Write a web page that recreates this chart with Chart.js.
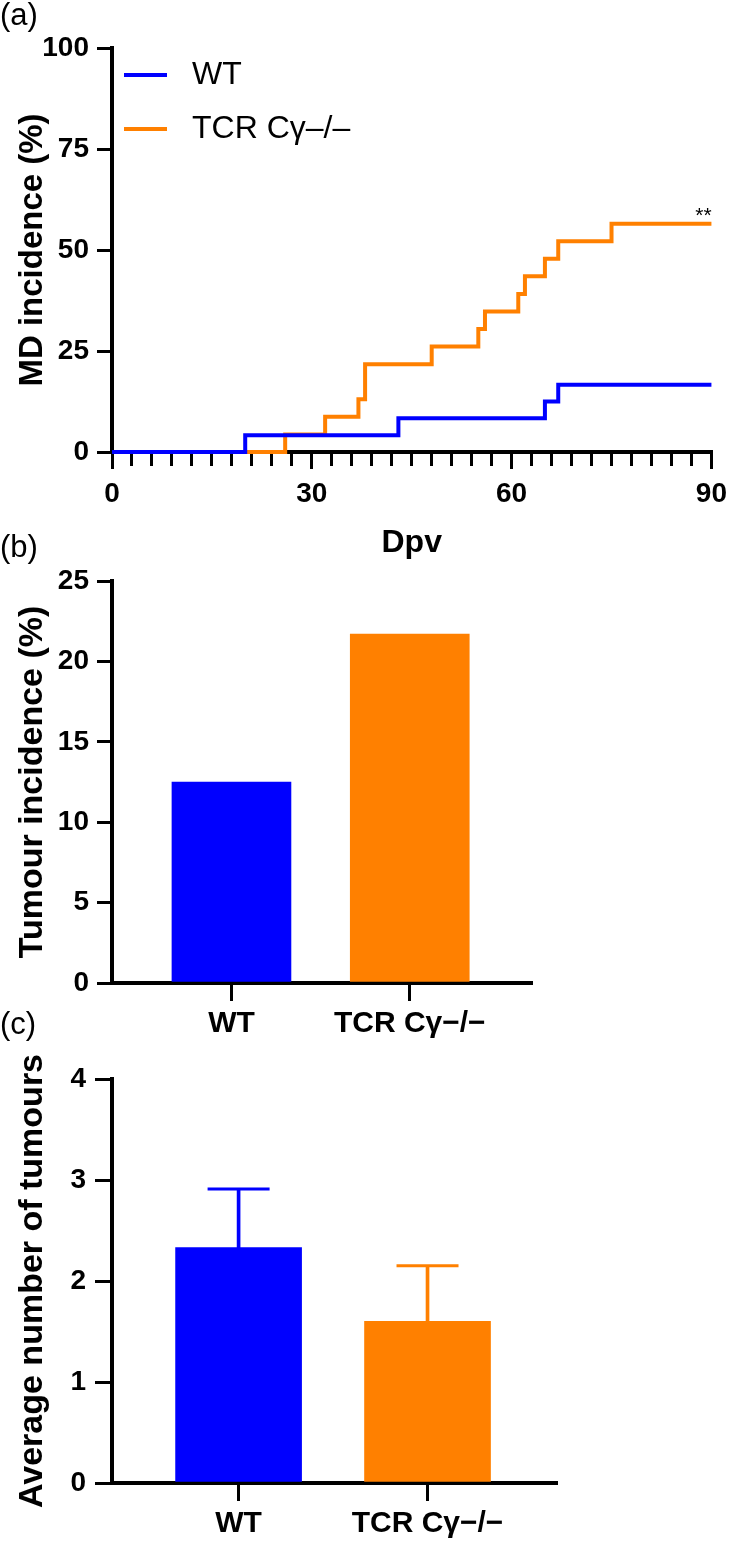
<!DOCTYPE html>
<html>
<head>
<meta charset="utf-8">
<script src="https://cdn.jsdelivr.net/npm/chart.js@4.4.0/dist/chart.umd.min.js"></script>
<style>
  html, body { margin: 0; padding: 0; background: #fff; }
  #wrap { position: relative; width: 735px; height: 1542px; }
  canvas { position: absolute; left: 0; top: 0; }
</style>
</head>
<body>
<div id="wrap">
  <canvas id="chartA" width="735" height="1542"></canvas>
  <canvas id="chartB" width="735" height="1542"></canvas>
  <canvas id="chartC" width="735" height="1542"></canvas>
</div>
<script>
// (a) MD incidence over time (Kaplan-Meier style steps)
const wtDays = [0, 20, 43, 65, 67, 90];
const wtIncidence = [0, 4.17, 8.33, 12.5, 16.67, 16.67];
const koDays = [0, 26, 32, 37, 38, 48, 55, 56, 61, 62, 65, 67, 75, 90];
const koIncidence = [0, 4.35, 8.7, 13.04, 21.74, 26.09, 30.43, 34.78, 39.13, 43.48, 47.83, 52.17, 56.52, 56.52];
const seriesNames = ['WT', 'TCR Cγ–/–'];
const dpvTicks = [0, 30, 60, 90];
const mdTicks = [0, 25, 50, 75, 100];

// (b) and (c)
const groups = ['WT', 'TCR Cγ−/−'];
const tumourIncidence = [12.5, 21.7];
const avgTumours = [2.33, 1.6];
const avgTumoursErr = [0.58, 0.55];

const BLUE = '#0000ff';
const ORANGE = '#ff8000';
const groupColors = [BLUE, ORANGE];

Chart.defaults.font.family = '"Liberation Sans", Arial, sans-serif';
Chart.defaults.color = '#000';
Chart.defaults.animation = false;

const W = 735, H = 1542;

// padding so the plot box lands where it is in the figure
function boxPadding(top, right, bottom, xHeight) {
  return { top: top, left: 0, right: W - right, bottom: H - bottom - xHeight };
}

function panelLetter(text, baseline) {
  return {
    id: 'letter' + text,
    afterDraw(chart) {
      const ctx = chart.ctx;
      ctx.save();
      ctx.font = '31px "Liberation Sans", Arial, sans-serif';
      ctx.fillStyle = '#000';
      ctx.textBaseline = 'alphabetic';
      ctx.fillText(text, 0, baseline);
      ctx.restore();
    }
  };
}

const axisGrid = (tl) => ({ drawOnChartArea: false, color: '#000', lineWidth: 3, tickLength: tl });
const axisBorder = { color: '#000', width: 4 };

// legend inside the plot, top left
const insideLegend = {
  id: 'insideLegend',
  afterDatasetsDraw(chart) {
    const { ctx, chartArea } = chart;
    ctx.save();
    chart.data.datasets.forEach((ds, i) => {
      const y = chartArea.top + 27 + i * 54;
      ctx.strokeStyle = ds.borderColor;
      ctx.lineWidth = 4;
      ctx.beginPath();
      ctx.moveTo(chartArea.left + 12, y);
      ctx.lineTo(chartArea.left + 55, y);
      ctx.stroke();
      ctx.fillStyle = '#000';
      ctx.font = '32px "Liberation Sans", Arial, sans-serif';
      ctx.textBaseline = 'middle';
      ctx.fillText(ds.label, chartArea.left + 80, y);
    });
    ctx.restore();
  }
};

// significance stars at the end of the TCR curve
const stars = {
  id: 'stars',
  afterDatasetsDraw(chart) {
    const { ctx, scales } = chart;
    ctx.save();
    ctx.font = '21px "Liberation Sans", Arial, sans-serif';
    ctx.fillStyle = '#000';
    ctx.textAlign = 'center';
    ctx.fillText('**', scales.x.getPixelForValue(88.8), scales.y.getPixelForValue(60) + 12);
    ctx.restore();
  }
};

new Chart(document.getElementById('chartA'), {
  type: 'line',
  data: {
    datasets: [
      { label: seriesNames[0], data: wtDays.map((d, i) => ({ x: d, y: wtIncidence[i] })),
        borderColor: BLUE, backgroundColor: BLUE },
      { label: seriesNames[1], data: koDays.map((d, i) => ({ x: d, y: koIncidence[i] })),
        borderColor: ORANGE, backgroundColor: ORANGE }
    ]
  },
  options: {
    responsive: false,
    clip: false,
    layout: { padding: boxPadding(48, 718, 452, 118) },
    elements: {
      line: { stepped: 'before', borderWidth: 4, borderJoinStyle: 'miter', fill: false },
      point: { radius: 0, hoverRadius: 0 }
    },
    plugins: { legend: { display: false }, tooltip: { enabled: false } },
    scales: {
      x: {
        type: 'linear', min: 0, max: 90,
        afterFit: s => { s.height = 118; },
        grid: {
          drawOnChartArea: false, color: '#000', lineWidth: 3, tickLength: 17,
          // minor ticks every 3 days are shorter than the labelled ones
          tickBorderDash: c => (c.tick && !dpvTicks.includes(c.tick.value)) ? [12, 40] : []
        },
        border: axisBorder,
        ticks: {
          stepSize: 3, autoSkip: false, maxRotation: 0, padding: 8,
          font: { size: 28, weight: 'bold' },
          callback: v => dpvTicks.includes(v) ? v : ''
        },
        title: { display: true, text: 'Dpv', font: { size: 32, weight: 'bold' }, padding: { top: 0, bottom: 8 } }
      },
      y: {
        min: 0, max: 100,
        afterFit: s => { s.width = 112; },
        afterBuildTicks: s => { s.ticks = mdTicks.map(v => ({ value: v })); },
        grid: axisGrid(15),
        border: axisBorder,
        ticks: { padding: 8, font: { size: 28, weight: 'bold' } },
        title: { display: true, text: 'MD incidence (%)', font: { size: 33, weight: 'bold' }, padding: { top: 13, bottom: 0 } }
      }
    }
  },
  plugins: [insideLegend, stars, panelLetter('(a)', 25)]
});

function groupAxis(xHeight, tl) {
  return {
    type: 'linear', min: 0.33, max: 2.68, offset: false,
    afterFit: s => { s.height = xHeight; },
    afterBuildTicks: s => { s.ticks = groups.map((g, i) => ({ value: i + 1 })); },
    grid: Object.assign(axisGrid(tl), { offset: false }),
    border: axisBorder,
    ticks: { padding: 5, maxRotation: 0, autoSkip: false, font: { size: 30, weight: 'bold' },
             callback: v => groups[v - 1] }
  };
}

new Chart(document.getElementById('chartB'), {
  type: 'bar',
  data: {
    datasets: [{
      data: groups.map((g, i) => ({ x: i + 1, y: tumourIncidence[i] })),
      backgroundColor: groupColors, barThickness: 119, grouped: false
    }]
  },
  options: {
    responsive: false,
    layout: { padding: boxPadding(581, 531, 983, 60) },
    plugins: { legend: { display: false }, tooltip: { enabled: false } },
    scales: {
      x: groupAxis(60, 18),
      y: {
        min: 0, max: 25,
        afterFit: s => { s.width = 112; },
        ticks: { stepSize: 5, padding: 8, font: { size: 28, weight: 'bold' } },
        grid: axisGrid(15),
        border: axisBorder,
        title: { display: true, text: 'Tumour incidence (%)', font: { size: 34, weight: 'bold' }, padding: { top: 12, bottom: 0 } }
      }
    }
  },
  plugins: [panelLetter('(b)', 557)]
});

new Chart(document.getElementById('chartC'), {
  type: 'bar',
  data: {
    datasets: [
      { data: groups.map((g, i) => ({ x: i + 1, y: avgTumours[i] })),
        backgroundColor: groupColors, barThickness: 126, grouped: false },
      // error bar stems
      { data: groups.map((g, i) => ({ x: i + 1, y: [avgTumours[i], avgTumours[i] + avgTumoursErr[i]] })),
        backgroundColor: groupColors, barThickness: 3, grouped: false },
      // error bar caps
      { type: 'line', showLine: false,
        data: groups.map((g, i) => ({ x: i + 1, y: avgTumours[i] + avgTumoursErr[i] })),
        pointStyle: 'line', pointRadius: 31, pointHoverRadius: 31, pointBorderWidth: 3,
        pointBorderColor: groupColors, borderColor: groupColors }
    ]
  },
  options: {
    responsive: false,
    layout: { padding: boxPadding(1079, 556, 1483, 59) },
    plugins: { legend: { display: false }, tooltip: { enabled: false } },
    scales: {
      x: groupAxis(59, 18),
      y: {
        min: 0, max: 4,
        afterFit: s => { s.width = 112; },
        ticks: { stepSize: 1, padding: 9, font: { size: 28, weight: 'bold' } },
        grid: axisGrid(17),
        border: axisBorder,
        title: { display: true, text: 'Average number of tumours', font: { size: 34, weight: 'bold' }, padding: { top: 12, bottom: 0 } }
      }
    }
  },
  plugins: [panelLetter('(c)', 1034)]
});
</script>
</body>
</html>
